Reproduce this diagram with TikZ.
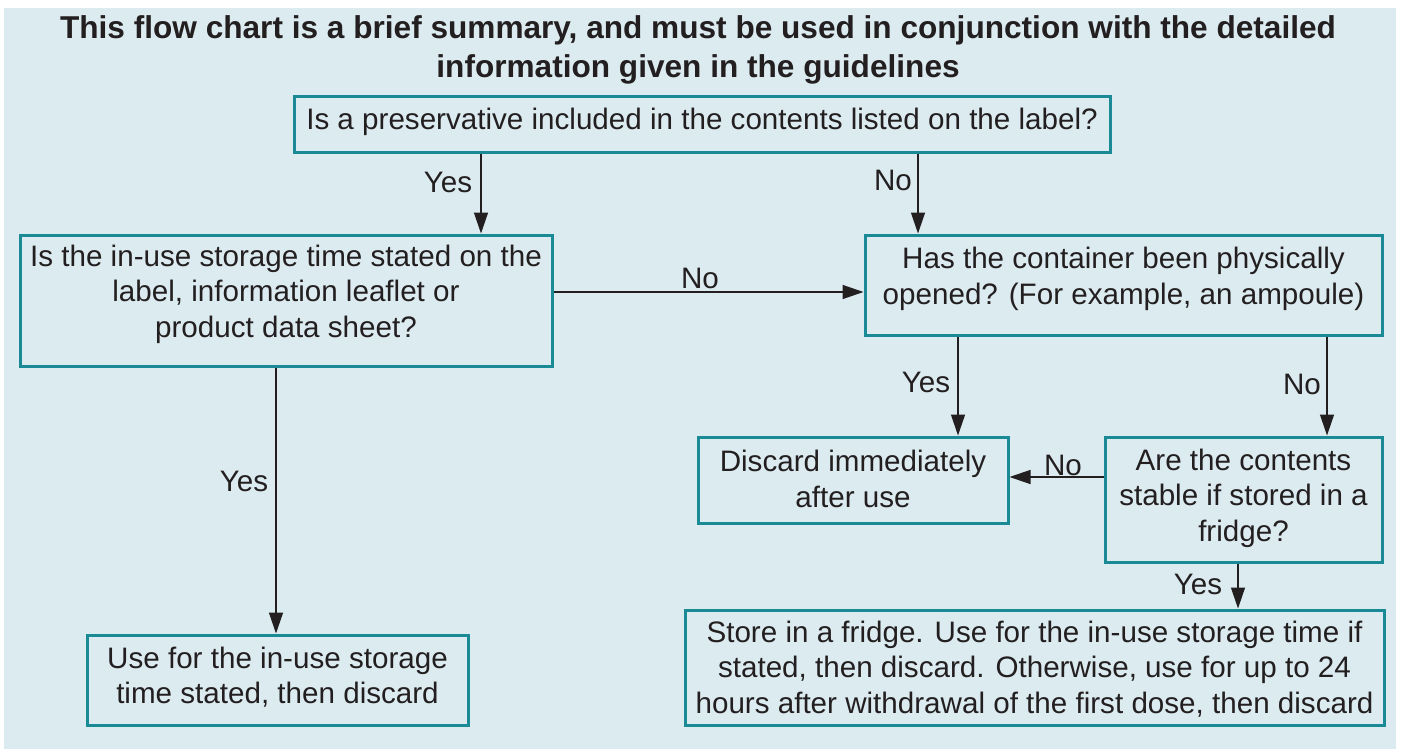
\documentclass[tikz,border=0pt]{standalone}
\usepackage{fontspec}
\setmainfont{Liberation Sans}
\usetikzlibrary{arrows.meta}
\definecolor{bg}{HTML}{DCEBF0}
\definecolor{teal}{HTML}{1A8A96}
\definecolor{ink}{HTML}{231F20}
\tikzset{
  box/.style={draw=teal, line width=1.5pt, fill=none, inner sep=0pt},
  txt/.style={text=ink, align=center, inner sep=0pt, font=\fontsize{14.8}{17.8}\selectfont},
  lbl/.style={text=ink, inner sep=0pt, font=\fontsize{14.8}{17.8}\selectfont},
  arr/.style={draw=ink, line width=0.7pt, -{Triangle[length=10.5pt,width=7pt]}}
}
\begin{document}
\begin{tikzpicture}[x=0.5pt,y=-0.5pt]
\useasboundingbox (0,0) rectangle (1401,749);
\fill[bg] (4,8) rectangle (1396,749);
\node[text=ink, align=center, inner sep=0pt, font=\fontsize{15.8}{19.5}\selectfont\bfseries] (title) at (698,50)
  {This flow chart is a brief summary, and must be used in conjunction with the detailed\\information given in the guidelines};
% boxes
\node[box, minimum width=408pt, minimum height=27.5pt] (b1) at (702,124.5) {};
\node[box, minimum width=266pt, minimum height=65.5pt] (b2) at (286,300.5) {};
\node[box, minimum width=258.5pt, minimum height=50pt] (b3) at (1123.5,285) {};
\node[box, minimum width=155pt, minimum height=43pt] (b4) at (853,480) {};
\node[box, minimum width=138.5pt, minimum height=62.5pt] (b5) at (1243.5,499.5) {};
\node[box, minimum width=349.5pt, minimum height=57.5pt] (b6) at (1034.5,667.5) {};
\node[box, minimum width=190.5pt, minimum height=45pt] (b7) at (277.5,680) {};
% texts
\node[txt] (t1) at (702,122) {Is a preservative included in the contents listed on the label?};
\node[txt] (t2) at (286,294) {Is the in-use storage time stated on the\\label, information leaflet or\\product data sheet?};
\node[txt] (t3) at (1123.5,279) {Has the container been physically\\opened? (For example, an ampoule)};
\node[txt] (t4) at (853,479) {Discard immediately\\after use};
\node[txt] (t5) at (1243.5,498) {Are the contents\\stable if stored in a\\fridge?};
\node[txt] (t6) at (1034.5,669) {Store in a fridge. Use for the in-use storage time if\\stated, then discard. Otherwise, use for up to 24\\hours after withdrawal of the first dose, then discard};
\node[txt] (t7) at (277.5,677) {Use for the in-use storage\\time stated, then discard};
% x positions
\coordinate (xa) at (481,0);
\coordinate (xb) at (918,0);
\coordinate (xc) at (276,0);
\coordinate (xd) at (958,0);
\coordinate (xe) at (1327,0);
\coordinate (xf) at (1238,0);
\coordinate (ya) at (0,292);
\coordinate (yb) at (0,477);
% arrows
\draw[arr] (b1.south -| xa) -- (b2.north -| xa);
\draw[arr] (b1.south -| xb) -- (b3.north -| xb);
\draw[arr] (b2.east |- ya) -- (b3.west |- ya);
\draw[arr] (b2.south -| xc) -- (b7.north -| xc);
\draw[arr] (b3.south -| xd) -- (b4.north -| xd);
\draw[arr] (b3.south -| xe) -- (b5.north -| xe);
\draw[arr] (b5.west |- yb) -- (b4.east |- yb);
\draw[arr] (b5.south -| xf) -- (b6.north -| xf);
% labels
\node[lbl] (l1) at (448,182) {Yes};
\node[lbl] (l2) at (893,180) {No};
\node[lbl] (l3) at (700,278) {No};
\node[lbl] (l4) at (244,481) {Yes};
\node[lbl] (l5) at (926,382) {Yes};
\node[lbl] (l6) at (1302,384) {No};
\node[lbl] (l7) at (1063,465) {No};
\node[lbl] (l8) at (1198,584) {Yes};
\end{tikzpicture}
\end{document}
